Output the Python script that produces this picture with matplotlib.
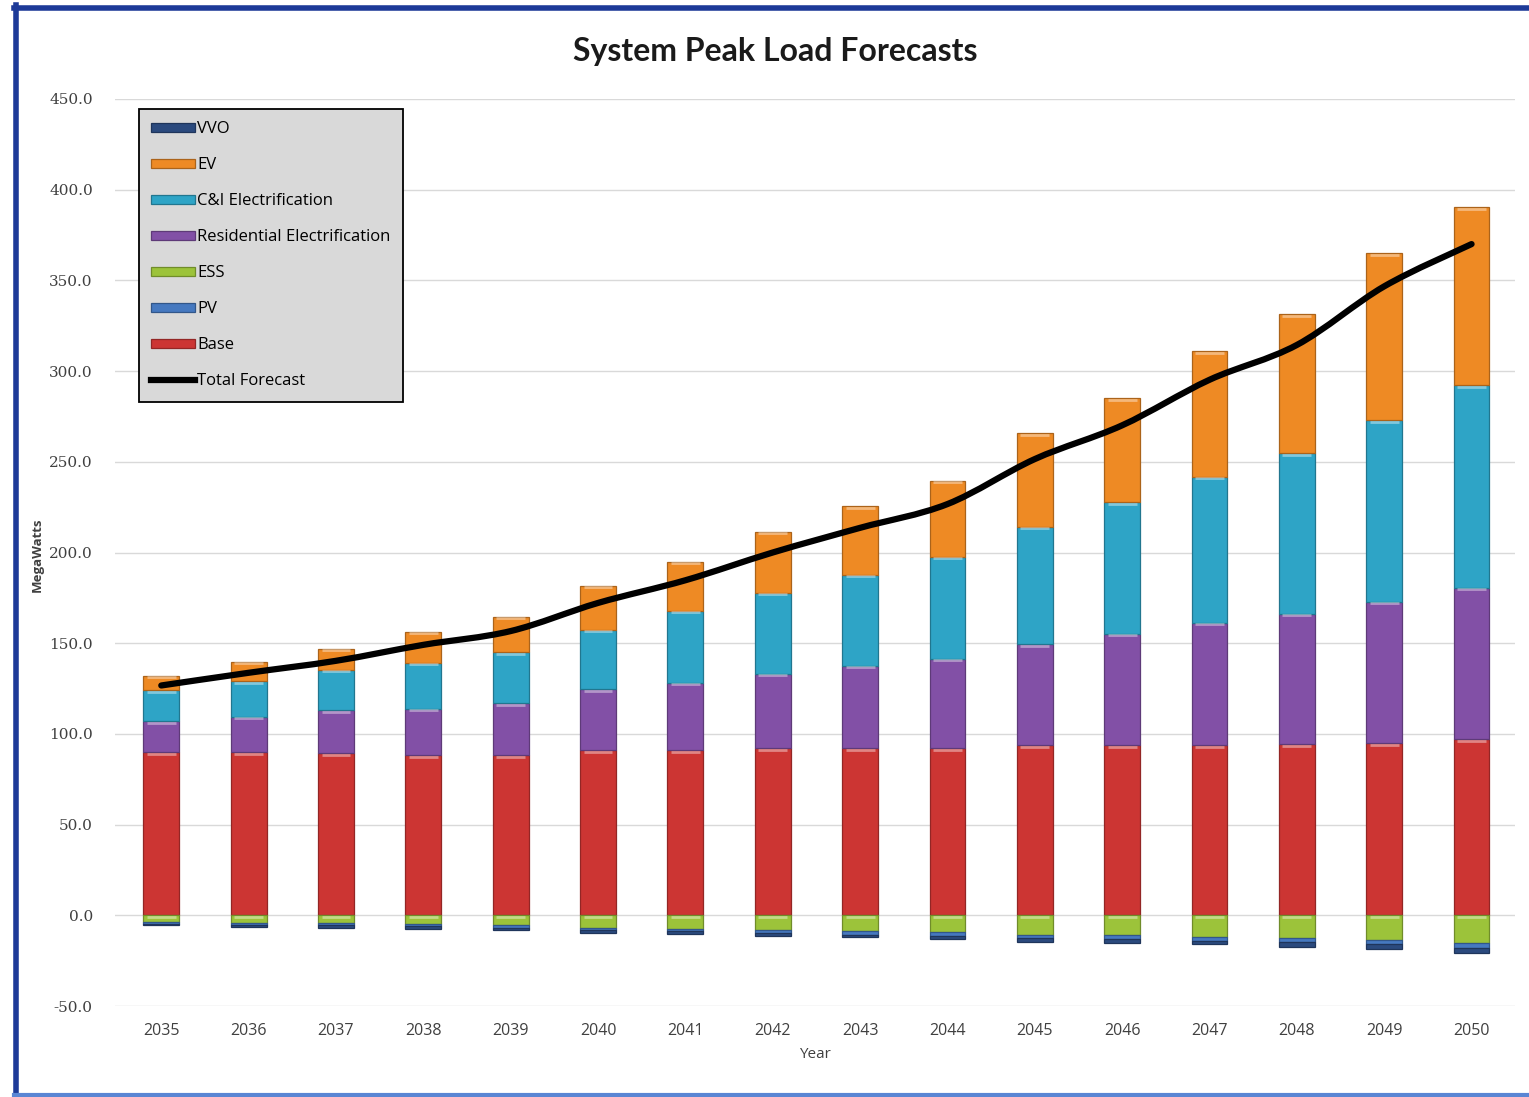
import numpy as np
import matplotlib.pyplot as plt
from matplotlib.lines import Line2D
from matplotlib.path import Path
from matplotlib.patches import PathPatch

# System peak load components by year (MW)
years = [str(y) for y in range(2035, 2051)]
base = [89.8, 89.8, 89.5, 88.5, 88.5, 91.0, 91.0, 92.0, 92.0, 92.0, 94.0, 94.0, 94.0, 94.5, 95.0, 97.0]
residential = [17.2, 19.8, 23.5, 25.5, 28.5, 33.5, 37.3, 41.3, 45.7, 49.5, 55.3, 61.3, 67.4, 71.8, 77.9, 83.7]
ci = [17.0, 19.3, 22.5, 25.3, 27.9, 33.0, 39.7, 44.6, 50.1, 56.2, 65.0, 72.7, 80.4, 88.7, 100.3, 111.8]
ev = [8.2, 11.0, 11.5, 17.1, 19.8, 24.3, 27.0, 33.6, 38.0, 41.9, 51.7, 57.3, 69.4, 76.6, 92.0, 98.0]
ess = [-3.5, -4.0, -4.3, -4.8, -5.3, -6.8, -7.3, -8.3, -8.8, -9.3, -10.6, -11.1, -11.7, -12.6, -13.6, -15.4]
pv = [-1.0, -1.1, -1.2, -1.3, -1.4, -1.5, -1.6, -1.7, -1.8, -1.9, -2.0, -2.1, -2.2, -2.3, -2.4, -2.5]
vvo = [-1.0, -1.1, -1.2, -1.2, -1.3, -1.3, -1.4, -1.5, -1.6, -1.7, -1.9, -2.0, -2.1, -2.3, -2.5, -2.6]

colors = {
    'Base': '#cc3533',
    'PV': '#4679c0',
    'ESS': '#9cc33a',
    'Residential Electrification': '#8250a6',
    'C&I Electrification': '#2ea4c6',
    'EV': '#ee8a24',
    'VVO': '#2b4a7e',
}

x = np.arange(len(years))
width = 0.41

fig = plt.figure(figsize=(15.29, 10.97), dpi=100)
ax = fig.add_axes([0.0752, 0.0829, 0.9158, 0.8269])


def darker(c, f=0.72):
    r, g, b = plt.matplotlib.colors.to_rgb(c)
    return (r * f, g * f, b * f)


def stack(values, bottoms, name):
    bars = ax.bar(x, values, width, bottom=bottoms, color=colors[name],
                  edgecolor=darker(colors[name]), linewidth=0.9, label=name, zorder=2)
    # light highlight strip along the top of each segment (bevel look)
    for b in bars:
        h = b.get_height()
        if abs(h) < 3:
            continue
        top = b.get_y() + h if h > 0 else b.get_y()
        ax.plot([b.get_x() + 0.04, b.get_x() + b.get_width() - 0.04], [top - 1.0, top - 1.0],
                color='white', alpha=0.4, lw=2.0, solid_capstyle='butt', zorder=3)
    return bars


pos = np.zeros(len(x))
neg = np.zeros(len(x))
handles = {}
handles['Base'] = stack(base, pos, 'Base'); pos += base
handles['ESS'] = stack(ess, neg, 'ESS'); neg += ess
handles['PV'] = stack(pv, neg, 'PV'); neg += pv
handles['VVO'] = stack(vvo, neg, 'VVO'); neg += vvo
handles['Residential Electrification'] = stack(residential, pos, 'Residential Electrification'); pos += residential
handles['C&I Electrification'] = stack(ci, pos, 'C&I Electrification'); pos += ci
handles['EV'] = stack(ev, pos, 'EV'); pos += ev

total = pos + neg

# smoothed total line (Catmull-Rom style bezier through the totals)
pts = np.column_stack([x, total])
verts = [pts[0]]
codes = [Path.MOVETO]
for i in range(len(pts) - 1):
    p0 = pts[i - 1] if i > 0 else pts[i]
    p1, p2 = pts[i], pts[i + 1]
    p3 = pts[i + 2] if i + 2 < len(pts) else pts[i + 1]
    c1 = p1 + (p2 - p0) / 6.0
    c2 = p2 - (p3 - p1) / 6.0
    verts += [c1, c2, p2]
    codes += [Path.CURVE4] * 3
ax.add_patch(PathPatch(Path(verts, codes), facecolor='none', edgecolor='black',
                       lw=4.5, capstyle='round', zorder=5))
total_handle = Line2D([], [], color='black', lw=4.5, label='Total Forecast')

ax.set_xlim(-0.53, 15.5)
ax.set_ylim(-50, 450)
ax.set_yticks(np.arange(-50, 451, 50))
ax.set_yticklabels([f'{v:.1f}' for v in np.arange(-50, 451, 50)],
                   family='DejaVu Serif', fontsize=11, color='#404040')
ax.set_xticks(x)
ax.set_xticklabels(years, family='Open Sans', fontsize=11.5, color='#404040')
ax.tick_params(length=0, pad=12)
ax.tick_params(axis='y', pad=16)
ax.grid(axis='y', color='#d9d9d9', lw=1.0, zorder=0)
ax.set_axisbelow(True)
for s in ax.spines.values():
    s.set_visible(False)

ax.set_xlabel('Year', family='Open Sans', fontsize=11, color='#404040', labelpad=6)
ax.set_ylabel('MegaWatts', family='Open Sans', fontsize=9.5, fontweight='bold',
              color='#404040')
ax.yaxis.set_label_coords(-0.051, 0.497)

order = ['VVO', 'EV', 'C&I Electrification', 'Residential Electrification', 'ESS', 'PV', 'Base']
leg = ax.legend([handles[k] for k in order] + [total_handle], order + ['Total Forecast'],
                loc='upper left', bbox_to_anchor=(0.017, 0.989), borderaxespad=0,
                frameon=True, fancybox=False, facecolor='#d9d9d9', edgecolor='black',
                framealpha=1, prop={'family': 'Open Sans', 'size': 12},
                handlelength=2.6, handleheight=0.5, handletextpad=0.15,
                labelspacing=1.2, borderpad=0.75)
leg.get_frame().set_linewidth(1.3)
leg.set_zorder(10)

fig.text(0.507, 0.953, 'System Peak Load Forecasts', ha='center', va='center',
         family='Lato', fontweight='bold', fontsize=23, color='#1a1a1a')

# outer chart frame
fig.add_artist(Line2D([15.5 / 1529, 15.5 / 1529], [0, 1 - 5 / 1097], color='#1d3a98', lw=4))
fig.add_artist(Line2D([13.5 / 1529, 1], [1 - 7.5 / 1097, 1 - 7.5 / 1097], color='#1d3a98', lw=4))
fig.add_artist(Line2D([13.5 / 1529, 1], [2 / 1097, 2 / 1097], color='#5a86d4', lw=3))

fig.savefig('out.png', dpi=100, facecolor='white')
